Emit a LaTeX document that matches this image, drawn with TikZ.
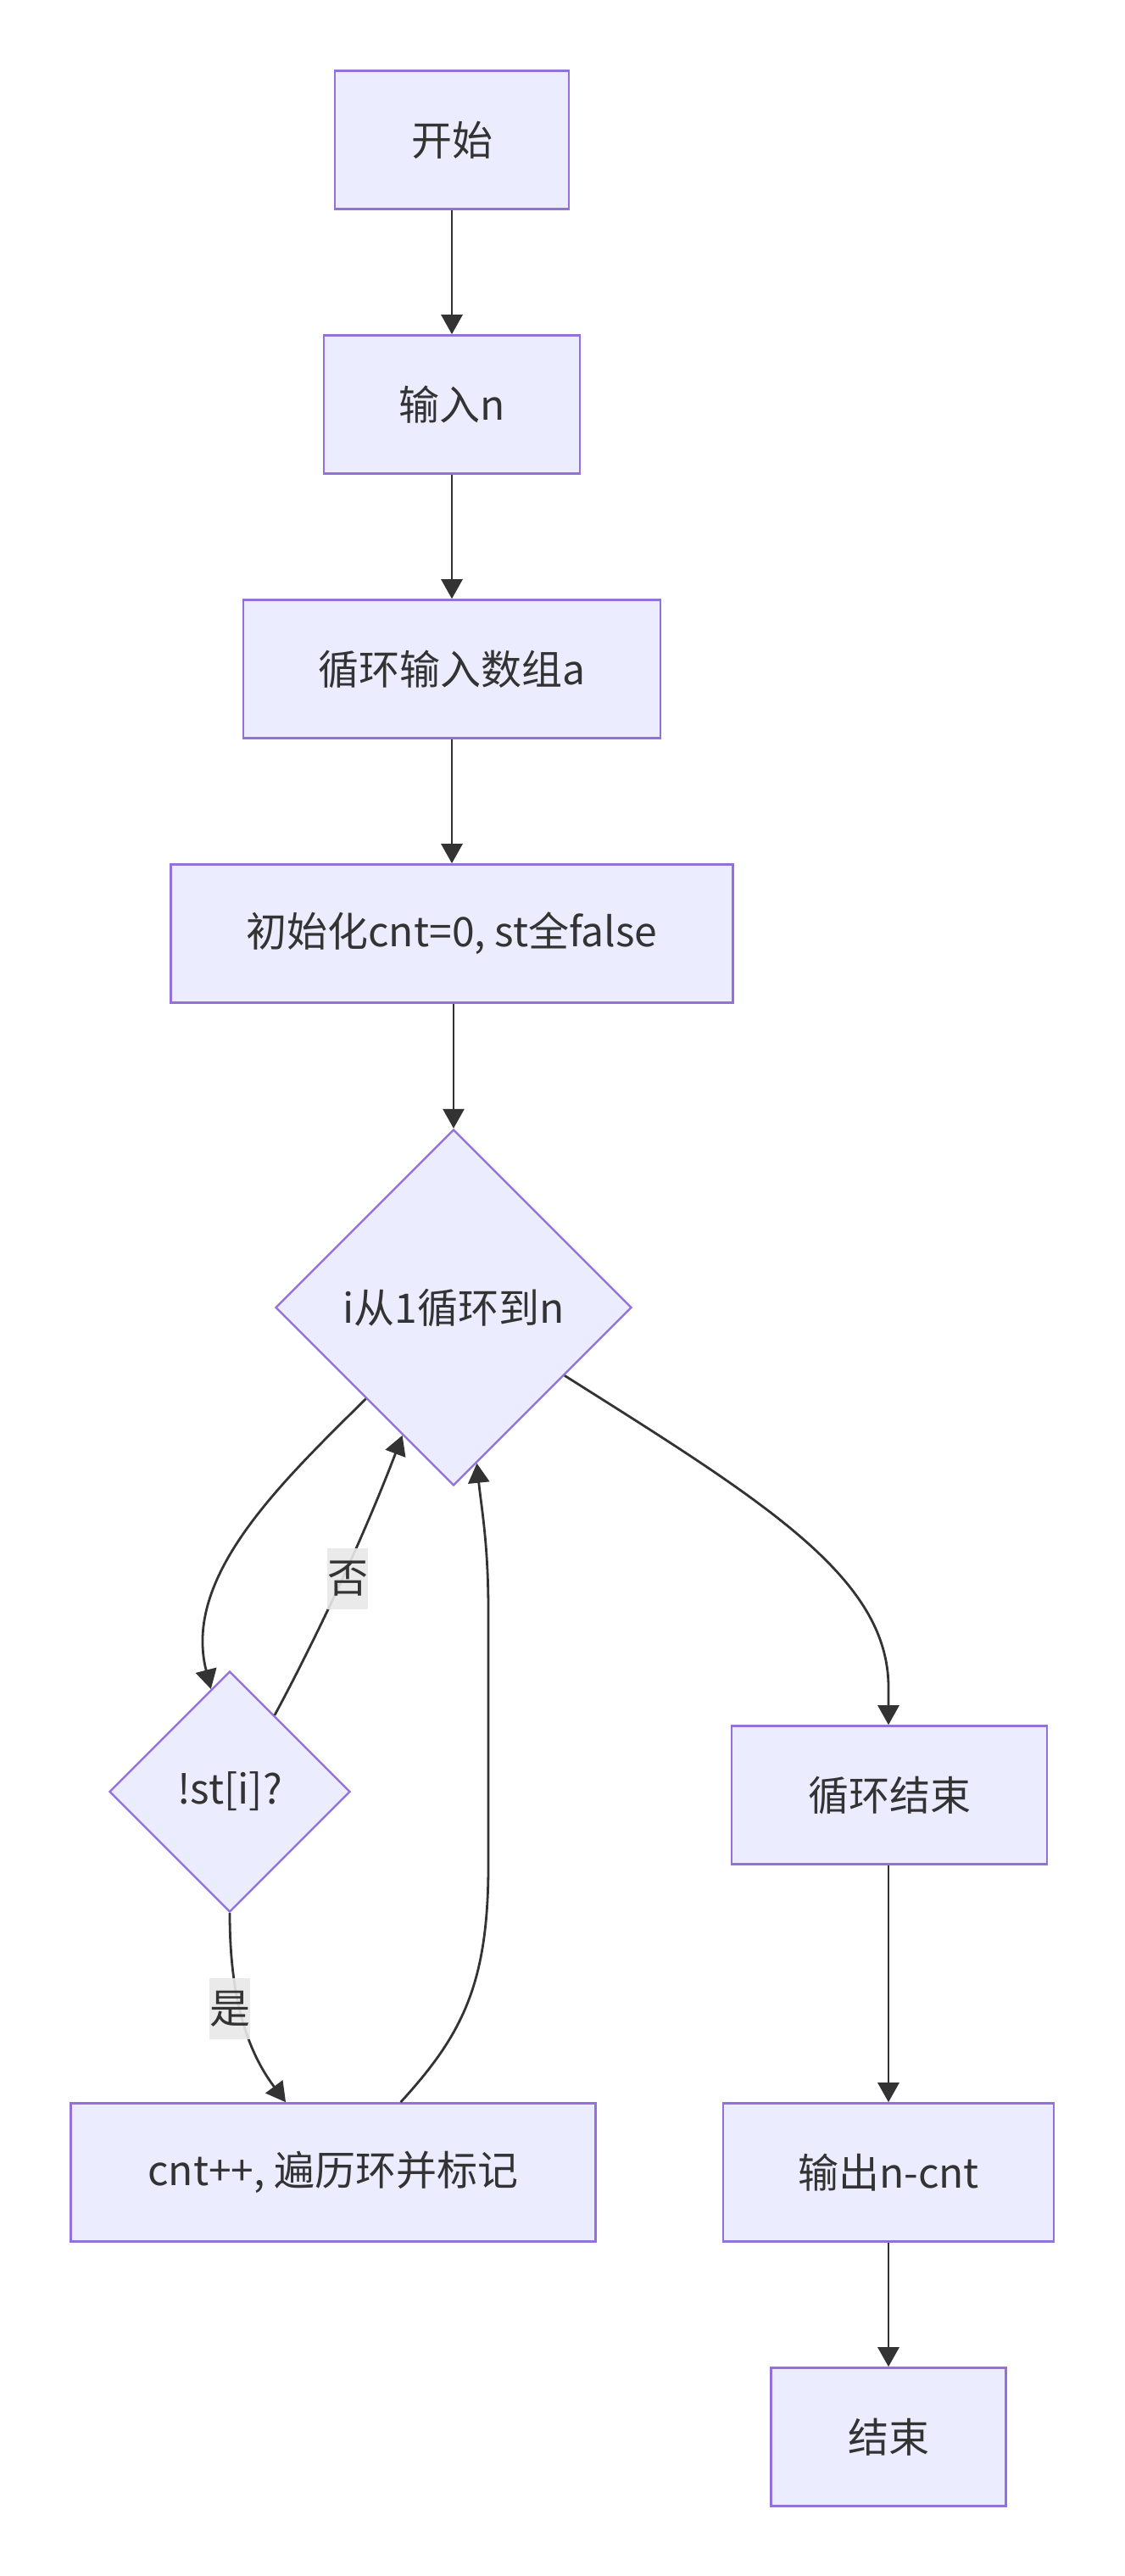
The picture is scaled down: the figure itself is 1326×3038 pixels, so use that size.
\documentclass[tikz,border=0pt]{standalone}
\usepackage{fontspec}
\setmainfont{Noto Sans CJK SC}
\usetikzlibrary{shapes.geometric,arrows.meta,calc}
\definecolor{bord}{HTML}{9370DB}
\definecolor{boxfill}{HTML}{ECECFF}
\definecolor{lin}{HTML}{333333}
\definecolor{txt}{HTML}{333333}
\definecolor{labbg}{HTML}{E8E8E8}
\begin{document}
\begin{tikzpicture}[x=1pt,y=-1pt,
  box/.style={draw=bord, fill=boxfill, line width=2.6pt, minimum height=163pt, inner sep=0pt, font=\fontsize{48}{57}\selectfont, text=txt},
  dia/.style={draw=bord, fill=boxfill, line width=2.4pt, diamond, aspect=1, inner sep=0pt, font=\fontsize{48}{57}\selectfont, text=txt},
  conn/.style={draw=lin, line width=2.8pt, -{Triangle[length=23pt,width=25pt]}},
  lab/.style={fill=labbg, fill opacity=0.9, text opacity=1, inner sep=0pt, minimum width=48pt, minimum height=72pt, font=\fontsize{48}{57}\selectfont, text=txt}]
\useasboundingbox[fill=white] (0,0) rectangle (1326,3038);

\node[box, minimum width=276pt] (start) at (533,165) {开始};
\node[box, minimum width=302pt] (inp) at (533,477) {输入n};
\node[box, minimum width=492pt] (arr) at (533,789) {循环输入数组a};
\node[box, minimum width=663pt] (init) at (533,1101) {初始化cnt=0, st全false};
\node[dia, minimum width=420pt, minimum height=420pt] (loop) at (535,1542) {i从1循环到n};
\node[dia, minimum width=284pt, minimum height=284pt] (chk) at (271,2113) {!st[i]?};
\node[box, minimum width=372pt] (lend) at (1049,2117) {循环结束};
\node[box, minimum width=619pt] (mark) at (393,2562) {cnt++, 遍历环并标记};
\node[box, minimum width=390pt] (out) at (1048,2562) {输出n-cnt};
\node[box, minimum width=277pt] (fin) at (1048,2874) {结束};

\draw[conn] (start) -- (inp);
\draw[conn] (inp) -- (arr);
\draw[conn] (arr) -- (init);
\draw[conn] (init.south -| loop.north) -- (loop.north);

% loop -> check
\draw[conn] ($(loop.west)!0.51!(loop.south)$) .. controls (330,1750) and (215,1860) .. ($(chk.north)!0.155!(chk.west)$);
% check -> loop (no)
\draw[conn] ($(chk.north)!0.37!(chk.east)$) .. controls (375,1928) and (430,1810) .. ($(loop.west)!0.714!(loop.south)$);
\node[lab] (no) at (410,1862) {否};
% check -> mark (yes)
\draw[conn] (chk.south) .. controls (271,2340) and (285,2410) .. ($(mark.north west)!0.41!(mark.north east)$);
\node[lab] (yes) at (271,2369) {是};
% mark -> loop
\draw[conn] ($(mark.north west)!0.628!(mark.north east)$) .. controls (545,2400) and (576,2340) .. (576,2200)
  -- (576,1900) .. controls (576,1820) and (568,1780) .. ($(loop.south)!0.13!(loop.east)$);
% loop -> lend
\draw[conn] ($(loop.south)!0.62!(loop.east)$) .. controls (900,1770) and (1048,1860) .. (1048,1990) -- (lend.north -| 1048,0);

\draw[conn] (lend.south -| out.north) -- (out.north);
\draw[conn] (out) -- (fin);
\end{tikzpicture}
\end{document}
